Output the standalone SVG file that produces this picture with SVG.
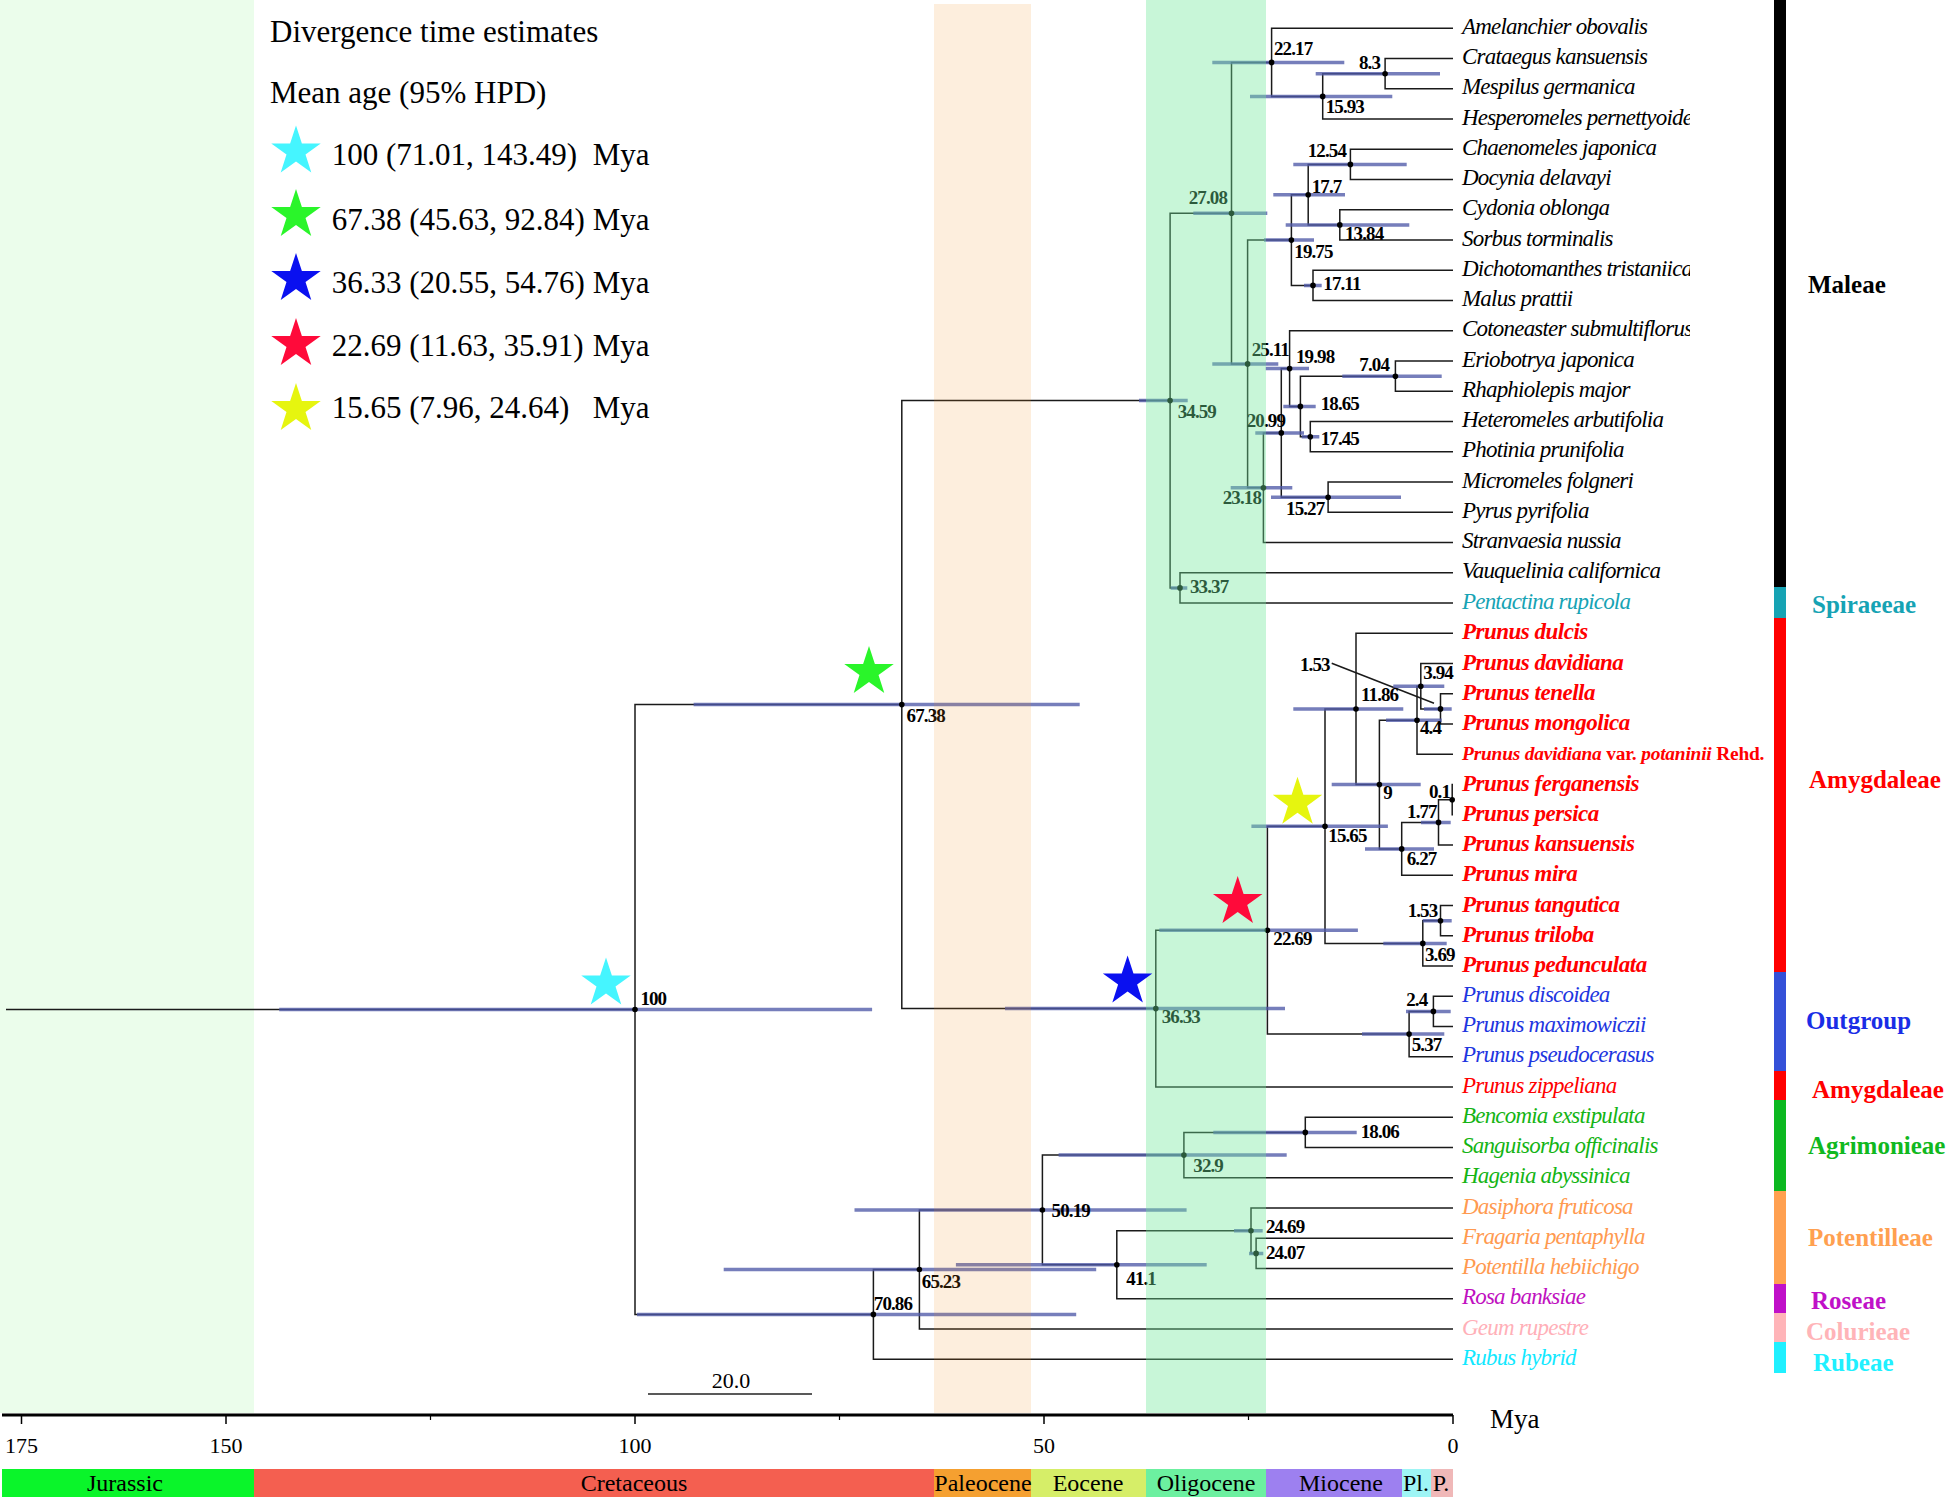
<svg xmlns="http://www.w3.org/2000/svg" xmlns:xlink="http://www.w3.org/1999/xlink" width="1946" height="1500" viewBox="0 0 1946 1500">
<style>
.br{fill:none;stroke:#1a1a1a;stroke-width:1.5}
.hpd{stroke:#4f5aa8;stroke-width:3.5;stroke-opacity:0.78}
.dot{fill:#000}
.nl{font-family:"Liberation Serif",serif;font-weight:bold;font-size:19px;letter-spacing:-0.9px;fill:#000}
.nle{text-anchor:end}
.tx{font-family:"Liberation Serif",serif;font-style:italic;font-size:23px;letter-spacing:-0.8px}
.txb{font-weight:bold;letter-spacing:-0.5px}
.gl{font-family:"Liberation Serif",serif;font-weight:bold;font-size:25px}
.ep{font-family:"Liberation Serif",serif;font-size:24px;text-anchor:middle;fill:#000}
.ax{font-family:"Liberation Serif",serif;font-size:22px;text-anchor:middle;fill:#000}
.lg{font-family:"Liberation Serif",serif;font-size:31px;fill:#000}
.blk{fill:#000}.teal{fill:#16a3b4}.red{fill:#ff0000}.blu{fill:#1e36e0}.grn{fill:#14b414}.org{fill:#ff9a50}.mag{fill:#c010c0}.pnk{fill:#ffb0b8}.cyn{fill:#12e8ff}
</style>
<defs>
<path id="star" d="M0,-26 L5.88,-8.09 L24.73,-8.03 L9.51,3.09 L15.28,21.03 L0,10 L-15.28,21.03 L-9.51,3.09 L-24.73,-8.03 L-5.88,-8.09 Z"/>
<clipPath id="clipM"><rect x="1455" y="0" width="235" height="590"/></clipPath>
</defs>
<rect width="1946" height="1500" fill="#fff"/>
<rect id="band-jurassic" x="0" y="0" width="254" height="1413" fill="#ebfdeb"/>

<g id="connectors">
<path class="br" d="M6,1009.5 H635"/>
<path class="br" d="M1453,58.6 H1385.1 V88.8 H1453"/>
<path class="br" d="M1385.1,73.7 H1322.7 V119.1 H1453"/>
<path class="br" d="M1453,28.3 H1271.6 V96.4 H1322.7"/>
<path class="br" d="M1453,149.3 H1350.4 V179.6 H1453"/>
<path class="br" d="M1453,209.8 H1339.8 V240.1 H1453"/>
<path class="br" d="M1350.4,164.4 H1308.2 V224.9 H1339.8"/>
<path class="br" d="M1453,270.3 H1313 V300.6 H1453"/>
<path class="br" d="M1308.2,194.7 H1291.4 V285.4 H1313"/>
<path class="br" d="M1453,361.1 H1395.4 V391.3 H1453"/>
<path class="br" d="M1453,421.6 H1310.3 V451.8 H1453"/>
<path class="br" d="M1395.4,376.2 H1300.4 V436.7 H1310.3"/>
<path class="br" d="M1453,330.8 H1289.6 V406.4 H1300.4"/>
<path class="br" d="M1453,482.1 H1328.1 V512.3 H1453"/>
<path class="br" d="M1289.6,368.6 H1281.3 V497.2 H1328.1"/>
<path class="br" d="M1281.3,432.9 H1263.4 V542.6 H1453"/>
<path class="br" d="M1291.4,240.1 H1247.6 V487.7 H1263.4"/>
<path class="br" d="M1271.6,62.4 H1231.5 V363.9 H1247.6"/>
<path class="br" d="M1453,572.8 H1180 V603.1 H1453"/>
<path class="br" d="M1231.5,213.2 H1170.1 V587.9 H1180"/>
<path class="br" d="M1453,693.8 H1440.5 V724.1 H1453"/>
<path class="br" d="M1453,663.6 H1420.8 V708.9 H1440.5"/>
<path class="br" d="M1420.8,686.2 H1417 V754.3 H1453"/>
<path class="br" d="M1453,784.6 H1452.2 V814.8 H1453"/>
<path class="br" d="M1452.2,799.7 H1438.5 V845.1 H1453"/>
<path class="br" d="M1438.5,822.4 H1401.7 V875.3 H1453"/>
<path class="br" d="M1417,720.3 H1379.4 V848.9 H1401.7"/>
<path class="br" d="M1453,633.3 H1356 V784.6 H1379.4"/>
<path class="br" d="M1453,905.6 H1440.5 V935.8 H1453"/>
<path class="br" d="M1440.5,920.7 H1422.8 V966.1 H1453"/>
<path class="br" d="M1356,709 H1325 V943.4 H1422.8"/>
<path class="br" d="M1453,996.3 H1433.4 V1026.6 H1453"/>
<path class="br" d="M1433.4,1011.4 H1409.1 V1056.8 H1453"/>
<path class="br" d="M1325,826.2 H1267.4 V1034.1 H1409.1"/>
<path class="br" d="M1267.4,930.2 H1155.8 V1087.1 H1453"/>
<path class="br" d="M1170.1,400.6 H901.8 V1008.6 H1155.8"/>
<path class="br" d="M1453,1117.3 H1305.3 V1147.6 H1453"/>
<path class="br" d="M1305.3,1132.4 H1183.9 V1177.8 H1453"/>
<path class="br" d="M1453,1238.3 H1256.1 V1268.6 H1453"/>
<path class="br" d="M1453,1208.1 H1251 V1253.4 H1256.1"/>
<path class="br" d="M1251,1230.7 H1116.8 V1298.8 H1453"/>
<path class="br" d="M1183.9,1155.1 H1042.4 V1264.8 H1116.8"/>
<path class="br" d="M1042.4,1210 H919.4 V1329.1 H1453"/>
<path class="br" d="M919.4,1269.5 H873.4 V1359.3 H1453"/>
<path class="br" d="M901.8,704.6 H635 V1314.4 H873.4"/>
<path class="br" d="M1331.7,663.3 L1434,703.3" stroke-width="1.3"/>
</g>

<g id="hpd-bars">
<path class="hpd" d="M1212.3,62.4H1344.3 M1315.7,73.7H1440 M1250,96.4H1392.3 M1293.3,164.4H1406.7 M1273.3,194.7H1345 M1193.3,213.2H1267.3 M1285.7,224.9H1409.3 M1264,240.1H1314 M1304,285.4H1321.7 M1212.3,363.9H1278.3 M1265.7,368.6H1309 M1342.3,376.2H1441.7 M1139,400.6H1187.7 M1283.3,406.4H1315.7 M1255.3,432.9H1304 M1301.7,436.7H1319.3 M1230.7,487.7H1292.3 M1271,497.2H1401 M1170.7,587.9H1187.3"/>
<path class="hpd" d="M1293.3,709H1403.3 M1393.3,686.2H1444.3 M1424,708.9H1451.7 M1386,720.3H1441.7 M1331.7,784.6H1420.7 M1421,822.4H1450.7 M1251.4,826.2H1387.9 M1365,848.9H1434 M1422.7,920.7H1451.7 M1383.3,943.4H1446.7 M1159.3,930.2H1357.9 M1005,1008.6H1285 M1406,1011.4H1450.7 M1362,1034.1H1444.3"/>
<path class="hpd" d="M1213.3,1132.4H1356.7 M1058.6,1155.1H1286.7 M1234,1230.7H1262.7 M1249,1253.4H1263.3 M854.5,1210H1186.6 M723.7,1269.5H1096.2 M955.9,1264.8H1206.7 M637,1314.4H1076.2 M693.6,704.6H1079.7 M279.2,1009.5H872.1"/>
</g>

<g id="internal-nodes">
<g id="n22.17"><circle class="dot" cx="1271.6" cy="62.4" r="2.8"/><text class="nl" x="1274" y="55">22.17</text></g>
<g id="n8.3"><circle class="dot" cx="1385.1" cy="73.7" r="2.8"/><text class="nl nle" x="1380" y="69">8.3</text></g>
<g id="n15.93"><circle class="dot" cx="1322.7" cy="96.4" r="2.8"/><text class="nl" x="1325.7" y="113">15.93</text></g>
<g id="n12.54"><circle class="dot" cx="1350.4" cy="164.4" r="2.8"/><text class="nl nle" x="1346" y="157">12.54</text></g>
<g id="n17.7"><circle class="dot" cx="1308.2" cy="194.7" r="2.8"/><text class="nl" x="1311.7" y="192.5">17.7</text></g>
<g id="n27.08"><circle class="dot" cx="1231.5" cy="213.2" r="2.8"/><text class="nl nle" x="1227" y="204">27.08</text></g>
<g id="n13.84"><circle class="dot" cx="1339.8" cy="224.9" r="2.8"/><text class="nl" x="1345" y="239.5">13.84</text></g>
<g id="n19.75"><circle class="dot" cx="1291.4" cy="240.1" r="2.8"/><text class="nl" x="1294.3" y="258.3">19.75</text></g>
<g id="n17.11"><circle class="dot" cx="1313" cy="285.4" r="2.8"/><text class="nl" x="1323.3" y="290">17.11</text></g>
<g id="n25.11"><circle class="dot" cx="1247.6" cy="363.9" r="2.8"/><text class="nl" x="1251.7" y="356">25.11</text></g>
<g id="n19.98"><circle class="dot" cx="1289.6" cy="368.6" r="2.8"/><text class="nl" x="1296" y="363.3">19.98</text></g>
<g id="n7.04"><circle class="dot" cx="1395.4" cy="376.2" r="2.8"/><text class="nl nle" x="1389" y="371">7.04</text></g>
<g id="n34.59"><circle class="dot" cx="1170.1" cy="400.6" r="2.8"/><text class="nl" x="1177.7" y="417.7">34.59</text></g>
<g id="n18.65"><circle class="dot" cx="1300.4" cy="406.4" r="2.8"/><text class="nl" x="1320.7" y="410">18.65</text></g>
<g id="n20.99"><circle class="dot" cx="1281.3" cy="432.9" r="2.8"/><text class="nl nle" x="1285" y="426.7">20.99</text></g>
<g id="n17.45"><circle class="dot" cx="1310.3" cy="436.7" r="2.8"/><text class="nl" x="1320.7" y="445">17.45</text></g>
<g id="n23.18"><circle class="dot" cx="1263.4" cy="487.7" r="2.8"/><text class="nl nle" x="1261" y="504">23.18</text></g>
<g id="n15.27"><circle class="dot" cx="1328.1" cy="497.2" r="2.8"/><text class="nl nle" x="1324.3" y="515">15.27</text></g>
<g id="n33.37"><circle class="dot" cx="1180" cy="587.9" r="2.8"/><text class="nl" x="1190" y="593">33.37</text></g>
<g id="n1.53a"><circle class="dot" cx="1440.5" cy="708.9" r="2.8"/><text class="nl" x="1300" y="671">1.53</text></g>
<g id="n3.94"><circle class="dot" cx="1420.8" cy="686.2" r="2.8"/><text class="nl" x="1423.3" y="679.3">3.94</text></g>
<g id="n11.86"><circle class="dot" cx="1356" cy="709" r="2.8"/><text class="nl" x="1361" y="701">11.86</text></g>
<g id="n4.4"><circle class="dot" cx="1417" cy="720.3" r="2.8"/><text class="nl" x="1420" y="734.3">4.4</text></g>
<g id="n9"><circle class="dot" cx="1379.4" cy="784.6" r="2.8"/><text class="nl" x="1383.3" y="799.3">9</text></g>
<g id="n0.1"><circle class="dot" cx="1452.2" cy="799.7" r="2.8"/><text class="nl nle" x="1450" y="797.7">0.1</text></g>
<g id="n1.77"><circle class="dot" cx="1438.5" cy="822.4" r="2.8"/><text class="nl nle" x="1436.7" y="818.3">1.77</text></g>
<g id="n15.65"><circle class="dot" cx="1325" cy="826.2" r="2.8"/><text class="nl" x="1328.3" y="841.7">15.65</text></g>
<g id="n6.27"><circle class="dot" cx="1401.7" cy="848.9" r="2.8"/><text class="nl" x="1406.7" y="865">6.27</text></g>
<g id="n1.53b"><circle class="dot" cx="1440.5" cy="920.7" r="2.8"/><text class="nl nle" x="1437.3" y="917.3">1.53</text></g>
<g id="n22.69"><circle class="dot" cx="1267.4" cy="930.2" r="2.8"/><text class="nl" x="1273.3" y="945">22.69</text></g>
<g id="n3.69"><circle class="dot" cx="1422.8" cy="943.4" r="2.8"/><text class="nl" x="1425" y="961">3.69</text></g>
<g id="n2.4"><circle class="dot" cx="1433.4" cy="1011.4" r="2.8"/><text class="nl nle" x="1427.3" y="1006">2.4</text></g>
<g id="n36.33"><circle class="dot" cx="1155.8" cy="1008.6" r="2.8"/><text class="nl" x="1161.7" y="1022.7">36.33</text></g>
<g id="n5.37"><circle class="dot" cx="1409.1" cy="1034.1" r="2.8"/><text class="nl" x="1411.7" y="1050.7">5.37</text></g>
<g id="n67.38"><circle class="dot" cx="901.8" cy="704.6" r="2.8"/><text class="nl" x="906.6" y="721.7">67.38</text></g>
<g id="n18.06"><circle class="dot" cx="1305.3" cy="1132.4" r="2.8"/><text class="nl" x="1360.7" y="1138.3">18.06</text></g>
<g id="n32.9"><circle class="dot" cx="1183.9" cy="1155.1" r="2.8"/><text class="nl" x="1193.3" y="1171.7">32.9</text></g>
<g id="n24.69"><circle class="dot" cx="1251" cy="1230.7" r="2.8"/><text class="nl" x="1266" y="1232.7">24.69</text></g>
<g id="n24.07"><circle class="dot" cx="1256.1" cy="1253.4" r="2.8"/><text class="nl" x="1266" y="1259.3">24.07</text></g>
<g id="n50.19"><circle class="dot" cx="1042.4" cy="1210" r="2.8"/><text class="nl" x="1051.6" y="1216.7">50.19</text></g>
<g id="n41.1"><circle class="dot" cx="1116.8" cy="1264.8" r="2.8"/><text class="nl" x="1126.3" y="1285">41.1</text></g>
<g id="n65.23"><circle class="dot" cx="919.4" cy="1269.5" r="2.8"/><text class="nl" x="921.8" y="1288.3">65.23</text></g>
<g id="n70.86"><circle class="dot" cx="873.4" cy="1314.4" r="2.8"/><text class="nl" x="873.8" y="1310">70.86</text></g>
<g id="n100"><circle class="dot" cx="635" cy="1009.5" r="2.8"/><text class="nl" x="640.4" y="1005">100</text></g>
</g>

<g id="tips">
<g clip-path="url(#clipM)">
<g id="t0"><text class="tx blk" x="1462" y="33.8">Amelanchier obovalis</text></g>
<g id="t1"><text class="tx blk" x="1462" y="64.1">Crataegus kansuensis</text></g>
<g id="t2"><text class="tx blk" x="1462" y="94.3">Mespilus germanica</text></g>
<g id="t3"><text class="tx blk" x="1462" y="124.6">Hesperomeles pernettyoides</text></g>
<g id="t4"><text class="tx blk" x="1462" y="154.8">Chaenomeles japonica</text></g>
<g id="t5"><text class="tx blk" x="1462" y="185.1">Docynia delavayi</text></g>
<g id="t6"><text class="tx blk" x="1462" y="215.3">Cydonia oblonga</text></g>
<g id="t7"><text class="tx blk" x="1462" y="245.6">Sorbus torminalis</text></g>
<g id="t8"><text class="tx blk" x="1462" y="275.8">Dichotomanthes tristaniicarpa</text></g>
<g id="t9"><text class="tx blk" x="1462" y="306.1">Malus prattii</text></g>
<g id="t10"><text class="tx blk" x="1462" y="336.3">Cotoneaster submultiflorus</text></g>
<g id="t11"><text class="tx blk" x="1462" y="366.6">Eriobotrya japonica</text></g>
<g id="t12"><text class="tx blk" x="1462" y="396.8">Rhaphiolepis major</text></g>
<g id="t13"><text class="tx blk" x="1462" y="427.1">Heteromeles arbutifolia</text></g>
<g id="t14"><text class="tx blk" x="1462" y="457.3">Photinia prunifolia</text></g>
<g id="t15"><text class="tx blk" x="1462" y="487.6">Micromeles folgneri</text></g>
<g id="t16"><text class="tx blk" x="1462" y="517.8">Pyrus pyrifolia</text></g>
<g id="t17"><text class="tx blk" x="1462" y="548.1">Stranvaesia nussia</text></g>
<g id="t18"><text class="tx blk" x="1462" y="578.3">Vauquelinia californica</text></g>
</g>
<g id="t19"><text class="tx teal" x="1462" y="608.6">Pentactina rupicola</text></g>
<g id="t20"><text class="tx txb red" x="1462" y="639.3">Prunus dulcis</text></g>
<g id="t21"><text class="tx txb red" x="1462" y="669.6">Prunus davidiana</text></g>
<g id="t22"><text class="tx txb red" x="1462" y="699.8">Prunus tenella</text></g>
<g id="t23"><text class="tx txb red" x="1462" y="730.1">Prunus mongolica</text></g>
<g id="t24"><text class="tx txb red" x="1462" y="759.8" style="font-size:19.4px;letter-spacing:-0.2px">Prunus davidiana <tspan font-style="normal">var.</tspan> potaninii <tspan font-style="normal">Rehd.</tspan></text></g>
<g id="t25"><text class="tx txb red" x="1462" y="790.6">Prunus ferganensis</text></g>
<g id="t26"><text class="tx txb red" x="1462" y="820.8">Prunus persica</text></g>
<g id="t27"><text class="tx txb red" x="1462" y="851.1">Prunus kansuensis</text></g>
<g id="t28"><text class="tx txb red" x="1462" y="881.3">Prunus mira</text></g>
<g id="t29"><text class="tx txb red" x="1462" y="911.6">Prunus tangutica</text></g>
<g id="t30"><text class="tx txb red" x="1462" y="941.8">Prunus triloba</text></g>
<g id="t31"><text class="tx txb red" x="1462" y="972.1">Prunus pedunculata</text></g>
<g id="t32"><text class="tx blu" x="1462" y="1001.8">Prunus discoidea</text></g>
<g id="t33"><text class="tx blu" x="1462" y="1032.1">Prunus maximowiczii</text></g>
<g id="t34"><text class="tx blu" x="1462" y="1062.3">Prunus pseudocerasus</text></g>
<g id="t35"><text class="tx red" x="1462" y="1092.6">Prunus zippeliana</text></g>
<g id="t36"><text class="tx grn" x="1462" y="1122.8">Bencomia exstipulata</text></g>
<g id="t37"><text class="tx grn" x="1462" y="1153.1">Sanguisorba officinalis</text></g>
<g id="t38"><text class="tx grn" x="1462" y="1183.3">Hagenia abyssinica</text></g>
<g id="t39"><text class="tx org" x="1462" y="1213.6">Dasiphora fruticosa</text></g>
<g id="t40"><text class="tx org" x="1462" y="1243.8">Fragaria pentaphylla</text></g>
<g id="t41"><text class="tx org" x="1462" y="1274.1">Potentilla hebiichigo</text></g>
<g id="t42"><text class="tx mag" x="1462" y="1304.3">Rosa banksiae</text></g>
<g id="t43"><text class="tx pnk" x="1462" y="1334.6">Geum rupestre</text></g>
<g id="t44"><text class="tx cyn" x="1462" y="1364.8">Rubus hybrid</text></g>
</g>

<rect id="band-paleocene" x="934" y="4" width="97" height="1409" fill="#f18e1c" fill-opacity="0.15"/>
<rect id="band-oligocene" x="1146" y="0" width="120" height="1413" fill="#71e79a" fill-opacity="0.39"/>

<g id="tree-stars">
<use xlink:href="#star" href="#star" transform="translate(606,983.5)" fill="#45f5ff"/>
<use xlink:href="#star" href="#star" transform="translate(869,672)" fill="#2af52a"/>
<use xlink:href="#star" href="#star" transform="translate(1127.6,981.5)" fill="#0a10f0"/>
<use xlink:href="#star" href="#star" transform="translate(1237.7,902)" fill="#ff0a3a"/>
<use xlink:href="#star" href="#star" transform="translate(1297.5,802.8)" fill="#e6f50f"/>
</g>

<g id="legend">
<text class="lg" x="270" y="42">Divergence time estimates</text>
<text class="lg" x="270" y="102.5">Mean age (95% HPD)</text>
<use xlink:href="#star" href="#star" transform="translate(296,151.5)" fill="#45f5ff"/>
<use xlink:href="#star" href="#star" transform="translate(296,215)" fill="#2af52a"/>
<use xlink:href="#star" href="#star" transform="translate(296,279)" fill="#0a10f0"/>
<use xlink:href="#star" href="#star" transform="translate(296,344)" fill="#ff0a3a"/>
<use xlink:href="#star" href="#star" transform="translate(296,409)" fill="#e6f50f"/>
<text class="lg" x="331.7" y="164.5">100 (71.01, 143.49)</text><text class="lg" x="592.7" y="164.5">Mya</text>
<text class="lg" x="331.7" y="229.5">67.38 (45.63, 92.84)</text><text class="lg" x="592.7" y="229.5">Mya</text>
<text class="lg" x="331.7" y="293">36.33 (20.55, 54.76)</text><text class="lg" x="592.7" y="293">Mya</text>
<text class="lg" x="331.7" y="356.2">22.69 (11.63, 35.91)</text><text class="lg" x="592.7" y="356.2">Mya</text>
<text class="lg" x="331.7" y="418">15.65 (7.96, 24.64)</text><text class="lg" x="592.7" y="418">Mya</text>
</g>

<g id="scale-bar">
<line x1="648" y1="1394" x2="812" y2="1394" stroke="#222" stroke-width="1.5"/>
<text class="ax" x="731" y="1388">20.0</text>
</g>

<g id="time-axis">
<line x1="2" y1="1415" x2="1453" y2="1415" stroke="#000" stroke-width="3"/>
<path d="M21.5,1415V1424 M226,1415V1424 M635,1415V1424 M1044,1415V1424 M1453,1415V1424" stroke="#000" stroke-width="1.5"/>
<path d="M430.5,1415V1420 M839.5,1415V1420 M1248.5,1415V1420" stroke="#000" stroke-width="1.2"/>
<text class="ax" x="21.5" y="1453">175</text>
<text class="ax" x="226" y="1453">150</text>
<text class="ax" x="635" y="1453">100</text>
<text class="ax" x="1044" y="1453">50</text>
<text class="ax" x="1453" y="1453">0</text>
<text x="1490" y="1428" style="font-family:'Liberation Serif',serif;font-size:27px">Mya</text>
</g>

<g id="epoch-bar">
<rect x="2" y="1469" width="252" height="28" fill="#0af52a"/>
<rect x="254" y="1469" width="680" height="28" fill="#f45f50"/>
<rect x="934" y="1469" width="97" height="28" fill="#f5a030"/>
<rect x="1031" y="1469" width="115" height="28" fill="#d6ee68"/>
<rect x="1146" y="1469" width="120" height="28" fill="#6cf0a0"/>
<rect x="1266" y="1469" width="136" height="28" fill="#9d80f0"/>
<rect x="1402" y="1469" width="29" height="28" fill="#9ef5f5"/>
<rect x="1431" y="1469" width="22" height="28" fill="#f0b8b8"/>
<text class="ep" x="125" y="1491">Jurassic</text>
<text class="ep" x="634" y="1491">Cretaceous</text>
<text class="ep" x="983" y="1491">Paleocene</text>
<text class="ep" x="1088" y="1491">Eocene</text>
<text class="ep" x="1206" y="1491">Oligocene</text>
<text class="ep" x="1341" y="1491">Miocene</text>
<text class="ep" x="1416" y="1491">Pl.</text>
<text class="ep" x="1441" y="1491">P.</text>
</g>

<g id="clade-bar">
<rect x="1774" y="0" width="12" height="587" fill="#000"/>
<rect x="1774" y="587" width="12" height="31" fill="#16a3b4"/>
<rect x="1774" y="618" width="12" height="354" fill="#ff0000"/>
<rect x="1774" y="972" width="12" height="99" fill="#3450d8"/>
<rect x="1774" y="1071" width="12" height="29" fill="#ff0000"/>
<rect x="1774" y="1100" width="12" height="91" fill="#0cb820"/>
<rect x="1774" y="1191" width="12" height="93" fill="#ffa050"/>
<rect x="1774" y="1284" width="12" height="29" fill="#c010c8"/>
<rect x="1774" y="1313" width="12" height="29" fill="#ffb4b8"/>
<rect x="1774" y="1342" width="12" height="31" fill="#20f0ff"/>
</g>

<g id="clade-labels">
<text class="gl" x="1808" y="292.5" fill="#000">Maleae</text>
<text class="gl" x="1812" y="612.5" fill="#16a3b4">Spiraeeae</text>
<text class="gl" x="1809" y="787.5" fill="#ff0000">Amygdaleae</text>
<text class="gl" x="1806" y="1029" fill="#1a2de6">Outgroup</text>
<text class="gl" x="1812" y="1097.5" fill="#ff0000">Amygdaleae</text>
<text class="gl" x="1808" y="1153.5" fill="#10b820">Agrimonieae</text>
<text class="gl" x="1808" y="1245.5" fill="#ffa050">Potentilleae</text>
<text class="gl" x="1811" y="1308.5" fill="#c010c8">Roseae</text>
<text class="gl" x="1806" y="1339.5" fill="#ffb4b8">Colurieae</text>
<text class="gl" x="1813" y="1371" fill="#20f0ff">Rubeae</text>
</g>
</svg>
